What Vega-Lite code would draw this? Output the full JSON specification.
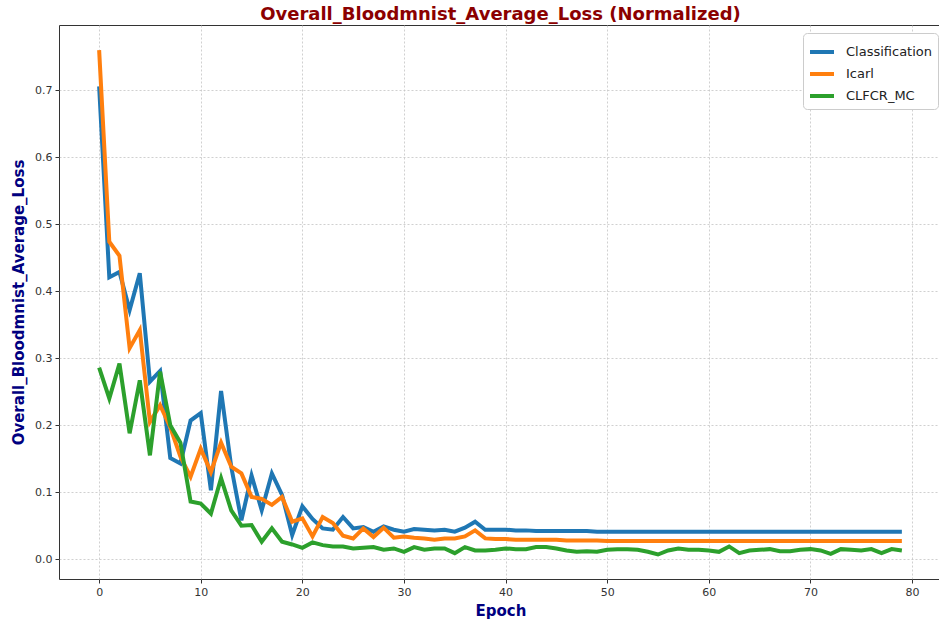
{
  "$schema": "https://vega.github.io/schema/vega-lite/v6.json",
  "width": 883,
  "height": 554,
  "autosize": {"type": "none"},
  "padding": {"left": 59, "top": 25, "right": 0, "bottom": 45},
  "background": "white",
  "config": {
    "font": "DejaVu Sans",
    "view": {"stroke": "#333333", "strokeWidth": 1}
  },
  "title": {
    "text": "Overall_Bloodmnist_Average_Loss (Normalized)",
    "color": "#8B0000",
    "fontSize": 18,
    "fontWeight": "bold",
    "font": "DejaVu Sans",
    "anchor": "middle",
    "offset": 1
  },
  "data": {
    "values": [
      {"epoch": 0, "Classification": 0.706, "Icarl": 0.760, "CLFCR_MC": 0.286},
      {"epoch": 1, "Classification": 0.421, "Icarl": 0.474, "CLFCR_MC": 0.240},
      {"epoch": 2, "Classification": 0.429, "Icarl": 0.453, "CLFCR_MC": 0.292},
      {"epoch": 3, "Classification": 0.372, "Icarl": 0.315, "CLFCR_MC": 0.188},
      {"epoch": 4, "Classification": 0.427, "Icarl": 0.342, "CLFCR_MC": 0.267},
      {"epoch": 5, "Classification": 0.265, "Icarl": 0.205, "CLFCR_MC": 0.155},
      {"epoch": 6, "Classification": 0.281, "Icarl": 0.230, "CLFCR_MC": 0.280},
      {"epoch": 7, "Classification": 0.151, "Icarl": 0.197, "CLFCR_MC": 0.200},
      {"epoch": 8, "Classification": 0.143, "Icarl": 0.153, "CLFCR_MC": 0.174},
      {"epoch": 9, "Classification": 0.207, "Icarl": 0.123, "CLFCR_MC": 0.086},
      {"epoch": 10, "Classification": 0.218, "Icarl": 0.165, "CLFCR_MC": 0.083},
      {"epoch": 11, "Classification": 0.103, "Icarl": 0.130, "CLFCR_MC": 0.068},
      {"epoch": 12, "Classification": 0.251, "Icarl": 0.174, "CLFCR_MC": 0.121},
      {"epoch": 13, "Classification": 0.138, "Icarl": 0.138, "CLFCR_MC": 0.073},
      {"epoch": 14, "Classification": 0.058, "Icarl": 0.128, "CLFCR_MC": 0.050},
      {"epoch": 15, "Classification": 0.125, "Icarl": 0.093, "CLFCR_MC": 0.051},
      {"epoch": 16, "Classification": 0.073, "Icarl": 0.090, "CLFCR_MC": 0.026},
      {"epoch": 17, "Classification": 0.128, "Icarl": 0.081, "CLFCR_MC": 0.046},
      {"epoch": 18, "Classification": 0.096, "Icarl": 0.093, "CLFCR_MC": 0.026},
      {"epoch": 19, "Classification": 0.036, "Icarl": 0.056, "CLFCR_MC": 0.022},
      {"epoch": 20, "Classification": 0.079, "Icarl": 0.061, "CLFCR_MC": 0.017},
      {"epoch": 21, "Classification": 0.060, "Icarl": 0.034, "CLFCR_MC": 0.025},
      {"epoch": 22, "Classification": 0.046, "Icarl": 0.063, "CLFCR_MC": 0.021},
      {"epoch": 23, "Classification": 0.044, "Icarl": 0.054, "CLFCR_MC": 0.019},
      {"epoch": 24, "Classification": 0.063, "Icarl": 0.035, "CLFCR_MC": 0.019},
      {"epoch": 25, "Classification": 0.046, "Icarl": 0.031, "CLFCR_MC": 0.016},
      {"epoch": 26, "Classification": 0.048, "Icarl": 0.046, "CLFCR_MC": 0.017},
      {"epoch": 27, "Classification": 0.041, "Icarl": 0.033, "CLFCR_MC": 0.018},
      {"epoch": 28, "Classification": 0.049, "Icarl": 0.047, "CLFCR_MC": 0.014},
      {"epoch": 29, "Classification": 0.044, "Icarl": 0.032, "CLFCR_MC": 0.016},
      {"epoch": 30, "Classification": 0.041, "Icarl": 0.034, "CLFCR_MC": 0.011},
      {"epoch": 31, "Classification": 0.045, "Icarl": 0.032, "CLFCR_MC": 0.018},
      {"epoch": 32, "Classification": 0.044, "Icarl": 0.031, "CLFCR_MC": 0.014},
      {"epoch": 33, "Classification": 0.043, "Icarl": 0.029, "CLFCR_MC": 0.016},
      {"epoch": 34, "Classification": 0.044, "Icarl": 0.031, "CLFCR_MC": 0.016},
      {"epoch": 35, "Classification": 0.041, "Icarl": 0.031, "CLFCR_MC": 0.009},
      {"epoch": 36, "Classification": 0.047, "Icarl": 0.034, "CLFCR_MC": 0.018},
      {"epoch": 37, "Classification": 0.056, "Icarl": 0.043, "CLFCR_MC": 0.013},
      {"epoch": 38, "Classification": 0.044, "Icarl": 0.031, "CLFCR_MC": 0.013},
      {"epoch": 39, "Classification": 0.044, "Icarl": 0.030, "CLFCR_MC": 0.014},
      {"epoch": 40, "Classification": 0.044, "Icarl": 0.030, "CLFCR_MC": 0.016},
      {"epoch": 41, "Classification": 0.043, "Icarl": 0.029, "CLFCR_MC": 0.015},
      {"epoch": 42, "Classification": 0.043, "Icarl": 0.029, "CLFCR_MC": 0.015},
      {"epoch": 43, "Classification": 0.042, "Icarl": 0.029, "CLFCR_MC": 0.018},
      {"epoch": 44, "Classification": 0.042, "Icarl": 0.029, "CLFCR_MC": 0.018},
      {"epoch": 45, "Classification": 0.042, "Icarl": 0.029, "CLFCR_MC": 0.016},
      {"epoch": 46, "Classification": 0.042, "Icarl": 0.028, "CLFCR_MC": 0.013},
      {"epoch": 47, "Classification": 0.042, "Icarl": 0.028, "CLFCR_MC": 0.011},
      {"epoch": 48, "Classification": 0.042, "Icarl": 0.028, "CLFCR_MC": 0.012},
      {"epoch": 49, "Classification": 0.041, "Icarl": 0.028, "CLFCR_MC": 0.011},
      {"epoch": 50, "Classification": 0.041, "Icarl": 0.027, "CLFCR_MC": 0.014},
      {"epoch": 51, "Classification": 0.041, "Icarl": 0.027, "CLFCR_MC": 0.015},
      {"epoch": 52, "Classification": 0.041, "Icarl": 0.027, "CLFCR_MC": 0.015},
      {"epoch": 53, "Classification": 0.041, "Icarl": 0.027, "CLFCR_MC": 0.014},
      {"epoch": 54, "Classification": 0.041, "Icarl": 0.027, "CLFCR_MC": 0.011},
      {"epoch": 55, "Classification": 0.041, "Icarl": 0.027, "CLFCR_MC": 0.007},
      {"epoch": 56, "Classification": 0.041, "Icarl": 0.027, "CLFCR_MC": 0.013},
      {"epoch": 57, "Classification": 0.041, "Icarl": 0.027, "CLFCR_MC": 0.016},
      {"epoch": 58, "Classification": 0.041, "Icarl": 0.027, "CLFCR_MC": 0.014},
      {"epoch": 59, "Classification": 0.041, "Icarl": 0.027, "CLFCR_MC": 0.014},
      {"epoch": 60, "Classification": 0.041, "Icarl": 0.027, "CLFCR_MC": 0.013},
      {"epoch": 61, "Classification": 0.041, "Icarl": 0.027, "CLFCR_MC": 0.011},
      {"epoch": 62, "Classification": 0.041, "Icarl": 0.027, "CLFCR_MC": 0.019},
      {"epoch": 63, "Classification": 0.041, "Icarl": 0.027, "CLFCR_MC": 0.009},
      {"epoch": 64, "Classification": 0.041, "Icarl": 0.027, "CLFCR_MC": 0.013},
      {"epoch": 65, "Classification": 0.041, "Icarl": 0.027, "CLFCR_MC": 0.014},
      {"epoch": 66, "Classification": 0.041, "Icarl": 0.027, "CLFCR_MC": 0.015},
      {"epoch": 67, "Classification": 0.041, "Icarl": 0.027, "CLFCR_MC": 0.012},
      {"epoch": 68, "Classification": 0.041, "Icarl": 0.027, "CLFCR_MC": 0.012},
      {"epoch": 69, "Classification": 0.041, "Icarl": 0.027, "CLFCR_MC": 0.014},
      {"epoch": 70, "Classification": 0.041, "Icarl": 0.027, "CLFCR_MC": 0.015},
      {"epoch": 71, "Classification": 0.041, "Icarl": 0.027, "CLFCR_MC": 0.013},
      {"epoch": 72, "Classification": 0.041, "Icarl": 0.027, "CLFCR_MC": 0.008},
      {"epoch": 73, "Classification": 0.041, "Icarl": 0.027, "CLFCR_MC": 0.015},
      {"epoch": 74, "Classification": 0.041, "Icarl": 0.027, "CLFCR_MC": 0.014},
      {"epoch": 75, "Classification": 0.041, "Icarl": 0.027, "CLFCR_MC": 0.013},
      {"epoch": 76, "Classification": 0.041, "Icarl": 0.027, "CLFCR_MC": 0.015},
      {"epoch": 77, "Classification": 0.041, "Icarl": 0.027, "CLFCR_MC": 0.009},
      {"epoch": 78, "Classification": 0.041, "Icarl": 0.027, "CLFCR_MC": 0.015},
      {"epoch": 79, "Classification": 0.041, "Icarl": 0.027, "CLFCR_MC": 0.013}
    ]
  },
  "transform": [
    {"fold": ["Classification", "Icarl", "CLFCR_MC"], "as": ["method", "loss"]}
  ],
  "mark": {"type": "line", "strokeWidth": 4, "clip": true},
  "encoding": {
    "x": {
      "field": "epoch",
      "type": "quantitative",
      "scale": {"domain": [-3.95, 82.95], "nice": false, "zero": false},
      "axis": {
        "title": "Epoch",
        "titleColor": "#000080",
        "titleFontSize": 15,
        "titleFontWeight": "bold",
        "titlePadding": 6,
        "values": [0, 10, 20, 30, 40, 50, 60, 70, 80],
        "labelFontSize": 11,
        "labelColor": "#333333",
        "labelPadding": 3,
        "tickSize": 4,
        "tickColor": "#333333",
        "domain": false,
        "grid": true,
        "gridColor": "#c4c4c4",
        "gridDash": [2, 2],
        "gridOpacity": 0.8
      }
    },
    "y": {
      "field": "loss",
      "type": "quantitative",
      "scale": {"domain": [-0.0296, 0.7976], "nice": false, "zero": false},
      "axis": {
        "title": "Overall_Bloodmnist_Average_Loss",
        "titleColor": "#000080",
        "titleFontSize": 15,
        "titleFontWeight": "bold",
        "titlePadding": 8,
        "values": [0, 0.1, 0.2, 0.3, 0.4, 0.5, 0.6, 0.7],
        "format": ".1f",
        "labelFontSize": 11,
        "labelColor": "#333333",
        "labelPadding": 3,
        "tickSize": 4,
        "tickColor": "#333333",
        "domain": false,
        "grid": true,
        "gridColor": "#c4c4c4",
        "gridDash": [2, 2],
        "gridOpacity": 0.8
      }
    },
    "color": {
      "field": "method",
      "type": "nominal",
      "scale": {
        "domain": ["Classification", "Icarl", "CLFCR_MC"],
        "range": ["#1f77b4", "#ff7f0e", "#2ca02c"]
      },
      "legend": {
        "title": null,
        "orient": "none",
        "legendX": 744,
        "legendY": 8,
        "fillColor": "white",
        "strokeColor": "#cccccc",
        "cornerRadius": 4,
        "padding": 5,
        "symbolType": "stroke",
        "symbolStrokeWidth": 4,
        "symbolSize": 576,
        "labelFontSize": 13,
        "labelColor": "#222222",
        "rowPadding": -2,
        "labelOffset": 10
      }
    }
  }
}
